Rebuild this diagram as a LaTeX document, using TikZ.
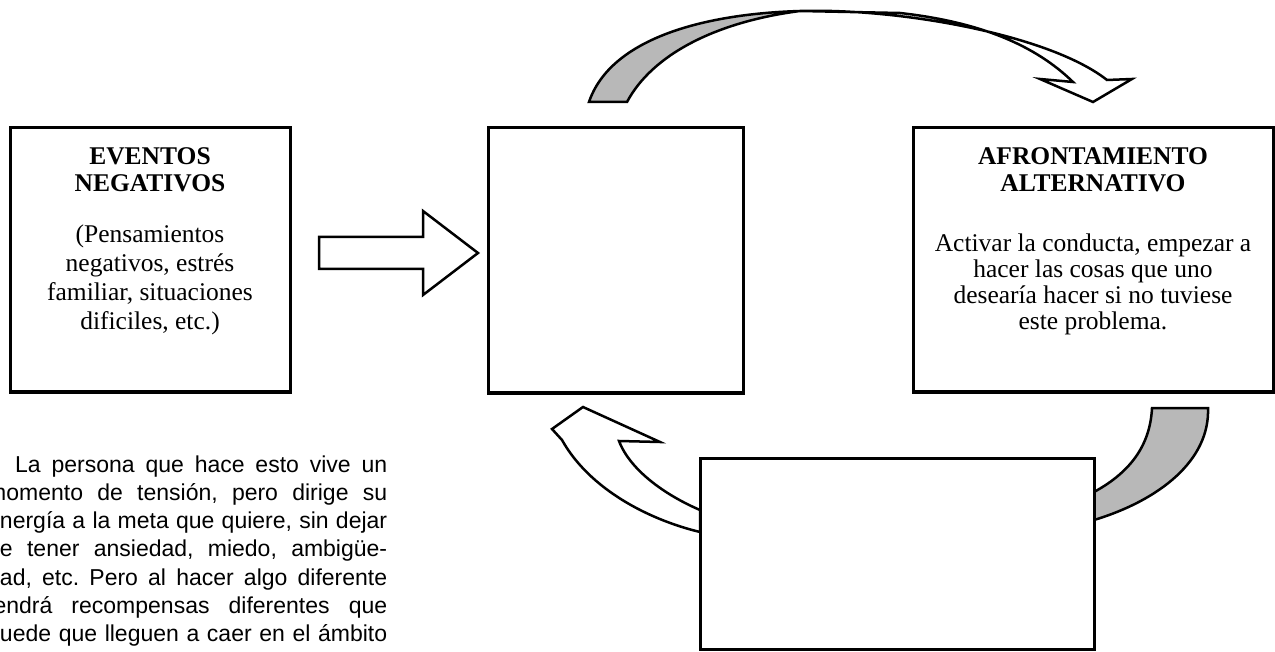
\documentclass[tikz,border=0pt]{standalone}
\usepackage{fontspec}
\setmainfont{Liberation Serif}
\newfontfamily\parafont{Liberation Sans}
\definecolor{bandgray}{gray}{0.72}
\frenchspacing
\begin{document}
\begin{tikzpicture}[x=1pt,y=-1pt,
  box/.style={draw=black, line width=3pt, fill=white, inner sep=0pt},
  whitearrow/.style={draw=black, line width=2.5pt, line join=miter, fill=white},
  grayband/.style={draw=black, line width=2.5pt, line join=miter, fill=bandgray},
  boxtext/.style={anchor=base, inner sep=0pt, font=\fontsize{25.5}{27}\selectfont},
  paratext/.style={anchor=base west, inner sep=0pt, font=\parafont\fontsize{23}{28.3}\selectfont}]
\useasboundingbox (0,0) rectangle (1275,652);
\clip (0,0) rectangle (1275,652);

% top curved arrow (gray back part, white front part with head)
\path[grayband] (589,102) .. controls (610,40) and (700,14) .. (800,11)
   .. controls (715,22) and (652,55) .. (627,102) -- cycle;
\path[whitearrow] (800,11) .. controls (900,8) and (1050,35) .. (1107,80)
   -- (1132,79) -- (1093,102) -- (1040,79) -- (1073,82)
   .. controls (1035,45) and (980,22) .. (900,13) -- cycle;

% bottom-right gray band
\path[grayband] (1152,408) -- (1208,408) .. controls (1210,460) and (1160,500) .. (1094,520)
   -- (1094,492) .. controls (1125,475) and (1150,450) .. (1152,408) -- cycle;

% left curved arrow
\path[whitearrow] (700,510) .. controls (665,495) and (630,470) .. (619,441)
   -- (660,442) -- (583,407) -- (552,429) -- (562,440)
   .. controls (590,490) and (650,520) .. (700,532) -- cycle;

% straight block arrow
\path[whitearrow] (319,237) -- (423,237) -- (423,211) -- (478,253) -- (423,295)
   -- (423,269) -- (319,269) -- cycle;

% boxes
\node[box, minimum width=280pt, minimum height=264pt] (ev) at (150,260) {};
\node[box, minimum width=255pt, minimum height=265pt] (mid) at (615.5,260.5) {};
\node[box, minimum width=360pt, minimum height=264pt] (af) at (1093,260) {};
\node[box, minimum width=394pt, minimum height=191pt] (bot) at (897,553.5) {};

% box texts
\node[boxtext] (evtitle) at (150,165) {\bfseries\begin{tabular}[t]{@{}c@{}}EVENTOS\\NEGATIVOS\end{tabular}};
\node[boxtext, font=\fontsize{25.5}{29}\selectfont] (evbody) at (150,243) {\begin{tabular}[t]{@{}c@{}}(Pensamientos\\negativos, estrés\\familiar, situaciones\\dificiles, etc.)\end{tabular}};
\node[boxtext] (aftitle) at (1093,165) {\bfseries\begin{tabular}[t]{@{}c@{}}AFRONTAMIENTO\\ALTERNATIVO\end{tabular}};
\node[boxtext, font=\fontsize{25.5}{26}\selectfont] (afbody) at (1093,252) {\begin{tabular}[t]{@{}c@{}}Activar la conducta, empezar a\\hacer las cosas que uno\\desearía hacer si no tuviese\\este problema.\end{tabular}};

% paragraph (cut at the left edge, as in the reference)
\node[paratext] (para) at (-13,472) {\begin{tabular}[t]{@{}l@{}}
\hspace*{28pt}\makebox[372pt][s]{La persona que hace esto vive un}\\
\makebox[400pt][s]{momento de tensión, pero dirige su}\\
\makebox[400pt][s]{energía a la meta que quiere, sin dejar}\\
\makebox[400pt][s]{de tener ansiedad, miedo, ambigüe-}\\
\makebox[400pt][s]{dad, etc. Pero al hacer algo diferente}\\
\makebox[400pt][s]{tendrá recompensas diferentes que}\\
\makebox[400pt][s]{puede que lleguen a caer en el ámbito}
\end{tabular}};
\end{tikzpicture}
\end{document}
